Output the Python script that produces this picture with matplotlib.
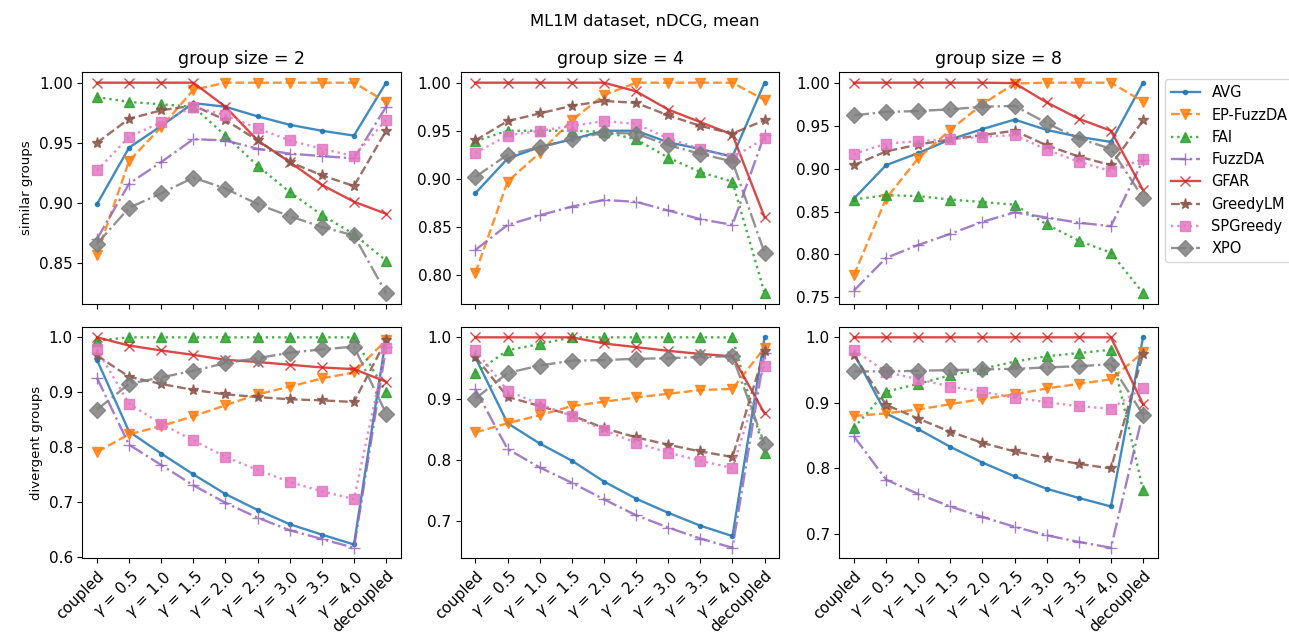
import numpy as np
import matplotlib
matplotlib.use("Agg")
import matplotlib.pyplot as plt
from matplotlib.ticker import MultipleLocator

x_labels = ["coupled", r"$\gamma$ = 0.5", r"$\gamma$ = 1.0", r"$\gamma$ = 1.5", r"$\gamma$ = 2.0",
            r"$\gamma$ = 2.5", r"$\gamma$ = 3.0", r"$\gamma$ = 3.5", r"$\gamma$ = 4.0", "decoupled"]
group_sizes = [2, 4, 8]
methods = ["AVG", "EP-FuzzDA", "FAI", "FuzzDA", "GFAR", "GreedyLM", "SPGreedy", "XPO"]

# similar groups, one dict per group size
sim_2 = {
    "AVG":       [0.899, 0.946, 0.964, 0.983, 0.980, 0.972, 0.965, 0.960, 0.956, 1.000],
    "EP-FuzzDA": [0.857, 0.935, 0.963, 0.994, 1.000, 1.000, 1.000, 1.000, 1.000, 0.984],
    "FAI":       [0.988, 0.984, 0.982, 0.980, 0.956, 0.931, 0.909, 0.890, 0.874, 0.852],
    "FuzzDA":    [0.870, 0.916, 0.934, 0.953, 0.952, 0.945, 0.941, 0.939, 0.937, 0.980],
    "GFAR":      [1.000, 1.000, 1.000, 1.000, 0.980, 0.952, 0.934, 0.915, 0.901, 0.891],
    "GreedyLM":  [0.950, 0.970, 0.977, 0.981, 0.969, 0.952, 0.934, 0.923, 0.914, 0.960],
    "SPGreedy":  [0.927, 0.955, 0.967, 0.980, 0.973, 0.962, 0.952, 0.945, 0.939, 0.969],
    "XPO":       [0.866, 0.896, 0.908, 0.921, 0.912, 0.899, 0.889, 0.880, 0.873, 0.825],
}
sim_4 = {
    "AVG":       [0.885, 0.921, 0.933, 0.941, 0.950, 0.950, 0.938, 0.931, 0.923, 1.000],
    "EP-FuzzDA": [0.802, 0.897, 0.927, 0.961, 0.987, 1.000, 1.000, 1.000, 1.000, 0.982],
    "FAI":       [0.939, 0.950, 0.950, 0.950, 0.949, 0.941, 0.922, 0.907, 0.897, 0.781],
    "FuzzDA":    [0.826, 0.852, 0.862, 0.871, 0.878, 0.876, 0.867, 0.858, 0.852, 0.946],
    "GFAR":      [1.000, 1.000, 1.000, 1.000, 1.000, 0.991, 0.972, 0.959, 0.946, 0.860],
    "GreedyLM":  [0.940, 0.960, 0.968, 0.976, 0.981, 0.979, 0.966, 0.955, 0.947, 0.961],
    "SPGreedy":  [0.927, 0.945, 0.950, 0.955, 0.960, 0.957, 0.942, 0.931, 0.922, 0.942],
    "XPO":       [0.902, 0.925, 0.933, 0.941, 0.948, 0.947, 0.935, 0.926, 0.918, 0.823],
}
sim_8 = {
    "AVG":       [0.865, 0.904, 0.918, 0.934, 0.946, 0.957, 0.945, 0.937, 0.931, 1.000],
    "EP-FuzzDA": [0.776, 0.865, 0.912, 0.945, 0.975, 0.999, 1.000, 1.000, 1.000, 0.978],
    "FAI":       [0.864, 0.869, 0.868, 0.864, 0.861, 0.858, 0.835, 0.816, 0.802, 0.755],
    "FuzzDA":    [0.758, 0.796, 0.811, 0.824, 0.838, 0.849, 0.843, 0.837, 0.833, 0.910],
    "GFAR":      [1.000, 1.000, 1.000, 1.000, 1.000, 0.9995, 0.977, 0.958, 0.944, 0.875],
    "GreedyLM":  [0.904, 0.920, 0.928, 0.934, 0.939, 0.944, 0.927, 0.914, 0.904, 0.956],
    "SPGreedy":  [0.917, 0.929, 0.932, 0.934, 0.937, 0.939, 0.922, 0.908, 0.897, 0.911],
    "XPO":       [0.962, 0.966, 0.967, 0.969, 0.972, 0.973, 0.953, 0.935, 0.923, 0.866],
}

# divergent groups
div_2 = {
    "AVG":       [0.959, 0.828, 0.788, 0.750, 0.714, 0.685, 0.659, 0.640, 0.622, 1.000],
    "EP-FuzzDA": [0.791, 0.823, 0.838, 0.856, 0.876, 0.896, 0.910, 0.925, 0.936, 0.995],
    "FAI":       [0.994, 1.000, 1.000, 1.000, 1.000, 1.000, 1.000, 1.000, 1.000, 0.900],
    "FuzzDA":    [0.926, 0.804, 0.767, 0.730, 0.698, 0.671, 0.648, 0.632, 0.616, 0.982],
    "GFAR":      [1.000, 0.985, 0.976, 0.968, 0.959, 0.955, 0.950, 0.945, 0.942, 0.919],
    "GreedyLM":  [0.967, 0.928, 0.915, 0.904, 0.896, 0.891, 0.887, 0.885, 0.882, 0.995],
    "SPGreedy":  [0.978, 0.879, 0.842, 0.812, 0.782, 0.758, 0.736, 0.719, 0.705, 0.980],
    "XPO":       [0.868, 0.915, 0.927, 0.939, 0.953, 0.962, 0.972, 0.978, 0.983, 0.861],
}
div_4 = {
    "AVG":       [0.967, 0.860, 0.827, 0.799, 0.765, 0.737, 0.714, 0.693, 0.676, 1.000],
    "EP-FuzzDA": [0.845, 0.860, 0.873, 0.888, 0.895, 0.902, 0.908, 0.914, 0.916, 0.983],
    "FAI":       [0.942, 0.979, 0.989, 1.000, 1.000, 1.000, 1.000, 1.000, 1.000, 0.811],
    "FuzzDA":    [0.915, 0.818, 0.788, 0.763, 0.736, 0.710, 0.690, 0.672, 0.657, 0.975],
    "GFAR":      [1.000, 1.000, 1.000, 1.000, 0.990, 0.984, 0.978, 0.973, 0.969, 0.876],
    "GreedyLM":  [0.968, 0.903, 0.888, 0.873, 0.852, 0.837, 0.825, 0.814, 0.805, 0.978],
    "SPGreedy":  [0.979, 0.913, 0.891, 0.872, 0.849, 0.828, 0.812, 0.799, 0.787, 0.954],
    "XPO":       [0.900, 0.942, 0.954, 0.962, 0.963, 0.965, 0.966, 0.968, 0.969, 0.826],
}
div_8 = {
    "AVG":       [0.975, 0.884, 0.860, 0.833, 0.809, 0.788, 0.769, 0.755, 0.742, 1.000],
    "EP-FuzzDA": [0.880, 0.884, 0.890, 0.898, 0.906, 0.913, 0.922, 0.929, 0.936, 0.977],
    "FAI":       [0.862, 0.917, 0.929, 0.942, 0.952, 0.963, 0.971, 0.976, 0.981, 0.767],
    "FuzzDA":    [0.849, 0.783, 0.761, 0.742, 0.726, 0.711, 0.698, 0.688, 0.679, 0.885],
    "GFAR":      [1.000, 1.000, 1.000, 1.000, 1.000, 1.000, 1.000, 1.000, 1.000, 0.898],
    "GreedyLM":  [0.973, 0.897, 0.876, 0.856, 0.839, 0.826, 0.816, 0.807, 0.800, 0.975],
    "SPGreedy":  [0.981, 0.947, 0.936, 0.925, 0.917, 0.908, 0.901, 0.895, 0.891, 0.923],
    "XPO":       [0.948, 0.948, 0.949, 0.950, 0.951, 0.952, 0.954, 0.956, 0.959, 0.882],
}

styles = {
    "AVG":       dict(color="tab:blue",   ls="-",  marker=".", ms=6),
    "EP-FuzzDA": dict(color="tab:orange", ls="--", marker="v", ms=7),
    "FAI":       dict(color="tab:green",  ls=":",  marker="^", ms=7),
    "FuzzDA":    dict(color="tab:purple", ls="-.", marker="+", ms=8),
    "GFAR":      dict(color="tab:red",    ls="-",  marker="x", ms=7),
    "GreedyLM":  dict(color="tab:brown",  ls="--", marker="*", ms=8),
    "SPGreedy":  dict(color="tab:pink",   ls=":",  marker="s", ms=7.5),
    "XPO":       dict(color="tab:gray",   ls="-.", marker="D", ms=8),
}

rows = [[sim_2, sim_4, sim_8], [div_2, div_4, div_8]]
row_labels = ["similar groups", "divergent groups"]
row_steps = [0.05, 0.1]

fig, axes = plt.subplots(2, 3, figsize=(12.89, 6.33), dpi=100)
plt.subplots_adjust(left=0.064, right=0.898, top=0.886, bottom=0.118, wspace=0.19, hspace=0.1)

xs = np.arange(len(x_labels))
for r in range(2):
    for c in range(3):
        ax = axes[r, c]
        data = rows[r][c]
        for m in methods:
            st = styles[m]
            ax.plot(xs, data[m], label=m, color=st["color"], linestyle=st["ls"],
                    marker=st["marker"], markersize=st["ms"], alpha=0.85, lw=1.7)
        ax.set_xticks(xs)
        ax.yaxis.set_major_locator(MultipleLocator(row_steps[r]))
        ax.tick_params(labelsize=11)
        if r == 0:
            ax.set_title("group size = %d" % group_sizes[c], fontsize=12.5)
            ax.set_xticklabels([])
        else:
            ax.set_xticklabels(x_labels, rotation=45, ha="right", rotation_mode="anchor")
        if c == 0:
            ax.set_ylabel(row_labels[r], fontsize=9.5)

axes[0, 2].legend(loc="upper left", bbox_to_anchor=(1.0, 1.0), fontsize=10.5)
fig.suptitle("ML1M dataset, nDCG, mean", fontsize=11.8, y=0.978)

plt.savefig("out.png", dpi=100)
